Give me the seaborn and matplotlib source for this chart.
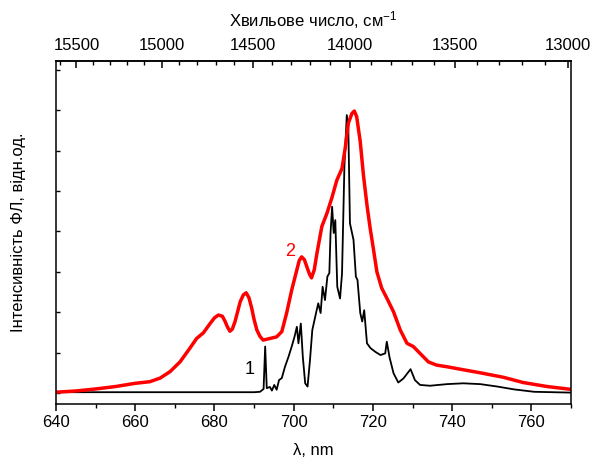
import numpy as np
import pandas as pd
import matplotlib
matplotlib.use("Agg")
import matplotlib.pyplot as plt
from matplotlib.ticker import MultipleLocator, NullFormatter
import seaborn as sns

# ---- data ----
lam_red = [640, 645, 650, 655, 660, 663.7, 666.3, 668.8, 671.3, 673, 673.8, 675.5,
           677.2, 678.9, 680.0, 681.0, 682.0, 682.7, 683.3, 683.9, 684.5, 685.2,
           686.5, 687.3, 688.0, 688.7, 689.4, 690.0, 690.7, 691.5, 692.3, 694.0,
           695.7, 697.0, 698.2, 699.5, 700.8, 701.4, 702.0, 702.7, 703.3, 704.0,
           704.5, 705.2, 705.8, 707.1, 708.4, 709.6, 710.9, 712.2, 713.0, 713.8,
           714.7, 715.3, 715.9, 716.8, 717.6, 718.5, 719.3, 720.1, 721.0, 722.2,
           723.5, 725.2, 726.9, 728.6, 730.2, 731.9, 734, 736.1, 738.7, 742,
           747.1, 752.9, 757.9, 764, 770]
int_red = [0.02, 0.05, 0.10, 0.16, 0.24, 0.28, 0.37, 0.53, 0.77, 1.00, 1.11, 1.35,
           1.49, 1.72, 1.86, 1.93, 1.90, 1.77, 1.63, 1.53, 1.58, 1.77,
           2.26, 2.43, 2.48, 2.36, 2.10, 1.82, 1.56, 1.40, 1.31, 1.35,
           1.39, 1.52, 1.97, 2.55, 3.05, 3.28, 3.37, 3.30, 3.13, 2.94,
           2.85, 3.05, 3.42, 4.12, 4.45, 4.82, 5.27, 5.56, 6.06, 6.68,
           6.92, 6.98, 6.84, 6.22, 5.40, 4.65, 4.08, 3.58, 3.00, 2.60,
           2.35, 2.01, 1.56, 1.23, 1.15, 0.98, 0.77, 0.69, 0.65, 0.59,
           0.50, 0.39, 0.26, 0.16, 0.09]

lam_black = [640, 660, 680, 690, 691.5, 692.4, 692.8, 693.2, 694.0, 694.5, 695.1,
             695.7, 696.3, 697.0, 697.8, 698.7, 699.5, 700.2, 700.8, 701.2, 701.8,
             702.3, 702.9, 703.5, 704.1, 704.7, 705.8, 706.2, 706.8, 707.3, 707.9,
             708.5, 709, 709.3, 709.7, 710.1, 710.5, 711, 711.7, 712.2, 712.8,
             713.4, 713.8, 714.2, 715.1, 715.7, 716.1, 716.8, 717.3, 717.8, 718.5,
             719.4, 720.6, 721.9, 723.1, 723.5, 724.2, 725.2, 726.4, 727.7, 729.5,
             730.6, 731.9, 734.4, 738.7, 742.8, 747.1, 751.4, 755.6, 760.7, 770]
int_black = [0.02, 0.02, 0.02, 0.02, 0.03, 0.10, 1.15, 0.12, 0.15, 0.06, 0.20,
             0.08, 0.32, 0.37, 0.65, 0.90, 1.15, 1.39, 1.64, 1.23, 1.72,
             0.90, 0.24, 0.16, 0.80, 1.56, 2.05, 2.22, 1.98, 2.63, 2.30,
             2.88, 2.97, 3.96, 4.61, 3.96, 4.28, 2.63, 2.34, 2.96, 5.60,
             6.88, 6.51, 4.20, 3.79, 2.88, 2.80, 1.98, 1.77, 2.05, 1.23,
             1.11, 1.02, 0.94, 0.98, 1.27, 0.88, 0.49, 0.26, 0.36, 0.59,
             0.32, 0.20, 0.18, 0.22, 0.24, 0.22, 0.16, 0.09, 0.03, 0.01]

x_ticks = [640, 660, 680, 700, 720, 740, 760]
top_ticks = [15500, 15000, 14500, 14000, 13500, 13000]
curve_labels = ["1", "2"]

# ---- style ----
sns.set_style("ticks")
plt.rcParams["font.family"] = ["Liberation Sans", "DejaVu Sans"]
plt.rcParams["mathtext.default"] = "regular"
plt.rcParams["axes.linewidth"] = 1.1
for k in ["text.color", "axes.labelcolor", "xtick.color", "ytick.color",
          "axes.edgecolor", "xtick.labelcolor", "ytick.labelcolor"]:
    plt.rcParams[k] = "black"

fig = plt.figure(figsize=(5.94, 4.59), dpi=100)
ax = fig.add_axes([56 / 594, 1 - 404 / 459, (571 - 56) / 594, (404 - 61) / 459])

df_b = pd.DataFrame({"lam": lam_black, "I": int_black})
df_r = pd.DataFrame({"lam": lam_red, "I": int_red})
sns.lineplot(data=df_b, x="lam", y="I", ax=ax, color="black", lw=1.3, sort=False,
             solid_joinstyle="round")
sns.lineplot(data=df_r, x="lam", y="I", ax=ax, color="#ff0000", lw=2.5, sort=False,
             solid_joinstyle="round", solid_capstyle="round")

ax.set_xlim(640, 770)
ax.set_ylim(-0.272, 8.218)
ax.set_xticks(x_ticks)
ax.xaxis.set_minor_locator(MultipleLocator(10))
ax.set_yticks(range(0, 9))
ax.yaxis.set_major_formatter(NullFormatter())
ax.tick_params(axis="x", which="major", direction="out", length=5, width=1.1,
               labelsize=12, pad=3, top=False)
ax.tick_params(axis="x", which="minor", direction="out", length=3, width=1.0, top=False)
ax.tick_params(axis="y", which="major", direction="in", length=3, width=1.0,
               left=True, right=False)

ax.set_xlabel("λ, nm", fontsize=12, labelpad=9)
ax.set_ylabel("Інтенсивність ФЛ, відн.од.", fontsize=12, labelpad=18)

def to_wn(x):
    x = np.asarray(x, dtype=float)
    return 1e7 / np.where(x == 0, 1e-9, x)

sec = ax.secondary_xaxis("top", functions=(to_wn, to_wn))
sec.set_xticks(top_ticks)
sec.xaxis.set_minor_locator(MultipleLocator(100))
sec.tick_params(axis="x", which="major", direction="in", length=5, width=1.1,
                labelsize=12, pad=6)
sec.tick_params(axis="x", which="minor", direction="in", length=3, width=1.0)
sec.set_xlabel("Хвильове число, см$^{-1}$", fontsize=12, labelpad=8)

ax.text(688.8, 0.57, curve_labels[0], color="black", fontsize=13, ha="center", va="center")
ax.text(699.1, 3.50, curve_labels[1], color="#ff0000", fontsize=13, ha="center", va="center")

fig.savefig("out.png", dpi=100)
